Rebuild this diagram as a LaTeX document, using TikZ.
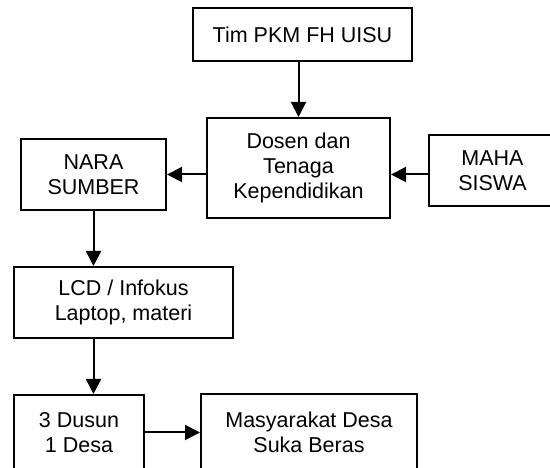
\documentclass[tikz,border=0pt]{standalone}
\usepackage{fontspec}
\setmainfont{Liberation Sans}
\usetikzlibrary{arrows.meta}
\begin{document}
\begin{tikzpicture}[x=1pt,y=-1pt,
  box/.style={draw=black, line width=2pt, fill=white, inner sep=0pt, align=center,
    font=\fontsize{21.5pt}{25pt}\selectfont},
  arr/.style={line width=2pt, -{Triangle[length=15pt,width=15pt]}}]
\useasboundingbox (0,0) rectangle (550,468);
\clip (0,0) rectangle (550,468);
\fill[white] (0,0) rectangle (550,468);
\node[box, minimum width=219pt, minimum height=53pt] (tim) at (302.5,34.5) {Tim PKM FH UISU};
\node[box, minimum width=183pt, minimum height=100pt] (dosen) at (298.5,168) {Dosen dan\\Tenaga\\Kependidikan};
\node[box, minimum width=145pt, minimum height=71pt] (nara) at (93.5,174.5) {NARA\\SUMBER};
\node[box, minimum width=127pt, minimum height=71pt] (maha) at (492.5,170.5) {MAHA\\SISWA};
\node[box, minimum width=219pt, minimum height=71pt] (lcd) at (123.5,302.5) {LCD / Infokus\\Laptop, materi};
\node[box, minimum width=130pt, minimum height=75pt] (dusun) at (79,432.5) {3 Dusun\\1 Desa};
\node[box, minimum width=216pt, minimum height=76pt] (masy) at (309,432) {Masyarakat Desa\\Suka Beras};
\draw[arr] (tim.south -| dosen.north) -- (dosen.north);
\draw[arr] (maha.west |- nara.east) -- (dosen.east |- nara.east);
\draw[arr] (dosen.west |- nara.east) -- (nara.east);
\draw[arr] (nara.south) -- (nara.south |- lcd.north);
\draw[arr] (lcd.south -| nara.south) -- (dusun.north -| nara.south);
\draw[arr] (dusun.east) -- (masy.west |- dusun.east);
\end{tikzpicture}
\end{document}
